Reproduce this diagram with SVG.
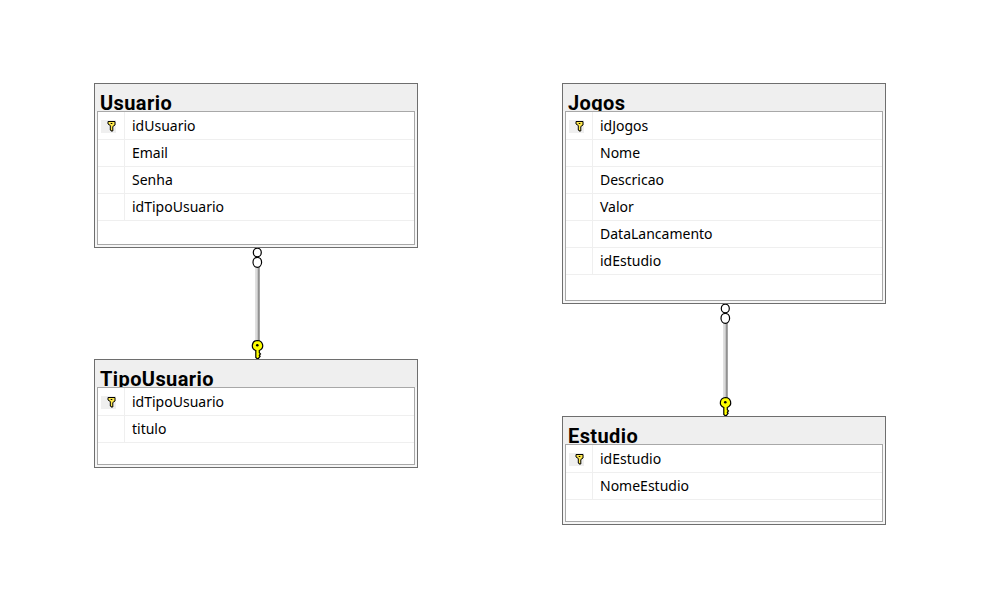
<svg xmlns="http://www.w3.org/2000/svg" width="997" height="611" viewBox="0 0 997 611">
<style>
.outer{fill:#efefef;stroke:#6e6e6e;stroke-width:1}
.inner{fill:#fff;stroke:#a8a8a8;stroke-width:1}
.band{fill:#f6f6f6}
.row{stroke:#efefef;stroke-width:1;fill:none}
.keycell{fill:#efefef}
.title{font:bold 20px Roboto,"Noto Sans",sans-serif;letter-spacing:.4px;fill:#000}
.col{font:14px "Noto Sans","Open Sans",sans-serif;fill:#000}
.ring{fill:#fff;stroke:#000;stroke-width:1.200}
.k{fill:#ffff00;stroke:#000;stroke-width:1.200}
</style>
<defs>
<symbol id="smallkey" overflow="visible">
<path d="M-3.500 -4.500h7v3.500l-2.200 1.500v4.500h-1.800v-1h-0.700v-4.500l-2.300 -1.500z" fill="#ffe94d" stroke="#000" stroke-width="1"/>
<rect x="-0.800" y="-3" width="1.600" height="1" fill="#000"/>
</symbol>
<symbol id="bigkey" overflow="visible">
<path d="M0 -5.500a5.500 5.200 0 0 1 2 10v2.200l1.200 1.200-1.200 1.300 .8 1-2.300 3.100-2 -1.800v-7a5.500 5.200 0 0 1 1.500 -10z" class="k"/>
<circle cx="0" cy="-0.800" r="1.300" fill="#000"/>
</symbol>
<linearGradient id="wire" x1="0" x2="1" y1="0" y2="0">
<stop offset="0" stop-color="#e2e2e2"/><stop offset=".45" stop-color="#d8d8d8"/><stop offset=".65" stop-color="#8c8c8c"/><stop offset="1" stop-color="#b0b0b0"/>
</linearGradient>
<clipPath id="c1"><rect x="95" y="84" width="322" height="27"/></clipPath>
<clipPath id="c2"><rect x="95" y="360" width="322" height="27"/></clipPath>
<clipPath id="c3"><rect x="563" y="84" width="322" height="27"/></clipPath>
<clipPath id="c4"><rect x="563" y="417" width="322" height="27"/></clipPath>
</defs>
<rect width="997" height="611" fill="#fff"/>

<g id="connectors">
<g id="conn-usuario-tipo">
<rect x="255" y="267" width="5" height="74" fill="url(#wire)"/>
<ellipse class="ring" cx="257.300" cy="252.500" rx="4" ry="4.400"/>
<ellipse class="ring" cx="257.300" cy="262.300" rx="4.300" ry="5"/>
<use href="#bigkey" x="257.300" y="346"/>
</g>
<g id="conn-jogos-estudio">
<rect x="723" y="323" width="5" height="75" fill="url(#wire)"/>
<ellipse class="ring" cx="725.300" cy="308.500" rx="4" ry="4.400"/>
<ellipse class="ring" cx="725.300" cy="318.300" rx="4.300" ry="5"/>
<use href="#bigkey" x="725.300" y="403"/>
</g>
</g>

<g id="Usuario">
<rect class="outer" x="94.500" y="83.500" width="323" height="164"/>
<rect class="band" x="95" y="111" width="322" height="136"/>
<text class="title" x="100" y="110" clip-path="url(#c1)">Usuario</text>
<rect class="inner" x="97.500" y="111.500" width="317" height="133"/>
<path class="row" d="M98 139.500H414M98 166.500H414M98 193.500H414M98 220.500H414M124.500 112V220"/>
<rect class="keycell" x="101" y="120" width="15" height="13"/>
<use href="#smallkey" x="111.500" y="126"/>
<text class="col" x="132" y="131">idUsuario</text>
<text class="col" x="132" y="158">Email</text>
<text class="col" x="132" y="185">Senha</text>
<text class="col" x="132" y="212">idTipoUsuario</text>
</g>

<g id="TipoUsuario">
<rect class="outer" x="94.500" y="359.500" width="323" height="108"/>
<rect class="band" x="95" y="387" width="322" height="80"/>
<text class="title" x="100" y="386" clip-path="url(#c2)">TipoUsuario</text>
<rect class="inner" x="97.500" y="387.500" width="317" height="77"/>
<path class="row" d="M98 415.500H414M98 442.500H414M124.500 388V442"/>
<rect class="keycell" x="101" y="396" width="15" height="13"/>
<use href="#smallkey" x="111.500" y="402"/>
<text class="col" x="132" y="407">idTipoUsuario</text>
<text class="col" x="132" y="434">titulo</text>
</g>

<g id="Jogos">
<rect class="outer" x="562.500" y="83.500" width="323" height="220"/>
<rect class="band" x="563" y="111" width="322" height="192"/>
<text class="title" x="568" y="110" clip-path="url(#c3)">Jogos</text>
<rect class="inner" x="565.500" y="111.500" width="317" height="189"/>
<path class="row" d="M566 139.500H882M566 166.500H882M566 193.500H882M566 220.500H882M566 247.500H882M566 274.500H882M592.500 112V274"/>
<rect class="keycell" x="569" y="120" width="15" height="13"/>
<use href="#smallkey" x="579.500" y="126"/>
<text class="col" x="600" y="131">idJogos</text>
<text class="col" x="600" y="158">Nome</text>
<text class="col" x="600" y="185">Descricao</text>
<text class="col" x="600" y="212">Valor</text>
<text class="col" x="600" y="239">DataLancamento</text>
<text class="col" x="600" y="266">idEstudio</text>
</g>

<g id="Estudio">
<rect class="outer" x="562.500" y="416.500" width="323" height="108"/>
<rect class="band" x="563" y="444" width="322" height="80"/>
<text class="title" x="568" y="443" clip-path="url(#c4)">Estudio</text>
<rect class="inner" x="565.500" y="444.500" width="317" height="77"/>
<path class="row" d="M566 472.500H882M566 499.500H882M592.500 445V499"/>
<rect class="keycell" x="569" y="453" width="15" height="13"/>
<use href="#smallkey" x="579.500" y="459"/>
<text class="col" x="600" y="464">idEstudio</text>
<text class="col" x="600" y="491">NomeEstudio</text>
</g>
</svg>
